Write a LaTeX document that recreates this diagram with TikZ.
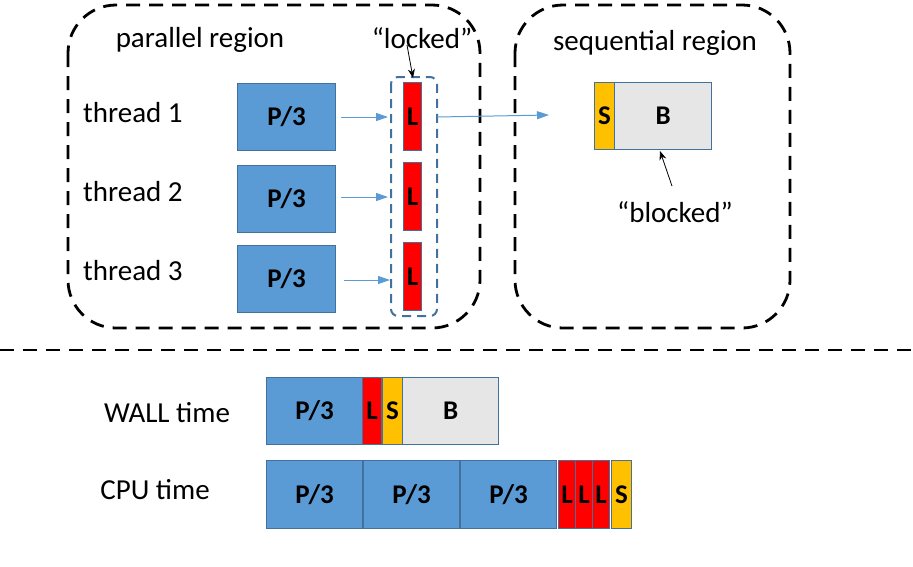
\documentclass[tikz,border=0pt]{standalone}
\usepackage{fontspec}
\setmainfont{Carlito}
\usetikzlibrary{arrows.meta}
\definecolor{pblue}{HTML}{5B9BD5}
\definecolor{pedge}{HTML}{41719C}
\definecolor{lred}{HTML}{FF0000}
\definecolor{sorange}{HTML}{FFC000}
\definecolor{bgray}{HTML}{E7E6E6}
\begin{document}
\begin{tikzpicture}[x=1pt,y=-1pt,
  box/.style={draw=pedge,line width=1.2pt,anchor=north west,inner sep=0pt,font=\fontsize{27}{30}\selectfont\bfseries},
  pbox/.style={box,fill=pblue},
  lbox/.style={box,fill=lred},
  sbox/.style={box,fill=sorange},
  bbox/.style={box,fill=bgray},
  lab/.style={font=\fontsize{29}{32}\selectfont,inner sep=0pt},
  region/.style={draw,dashed,line width=2.8pt,dash pattern=on 14pt off 9pt,rounded corners=48pt},
  barrow/.style={-{Triangle[length=12pt,width=8pt]},draw=pblue,line width=1pt},
  karrow/.style={-{Stealth[length=9pt,width=7pt]},line width=0.8pt}]
\useasboundingbox[fill=white] (0,0) rectangle (913,566);
\draw[region] (68,5) rectangle (480,328);
\draw[region] (515,5) rectangle (790,328);
\draw[dashed,line width=2.8pt,dash pattern=on 14pt off 9pt] (0,350) -- (913,350);
\node[lab] (tp) at (200,40) {parallel region};
\node[lab] (tl) at (422,38) {“locked”};
\node[lab] (ts) at (655,43) {sequential region};
\node[lab,anchor=west] (t1) at (83,113) {thread 1};
\node[lab,anchor=west] (t2) at (83,192) {thread 2};
\node[lab,anchor=west] (t3) at (83,271) {thread 3};
\node[pbox,minimum width=98pt,minimum height=67pt] (p1) at (237,83) {P/3};
\node[pbox,minimum width=98pt,minimum height=67pt] (p2) at (237,165) {P/3};
\node[pbox,minimum width=98pt,minimum height=67pt] (p3) at (237,245) {P/3};
\draw[draw=pedge,line width=2pt,dashed,dash pattern=on 9pt off 6pt,rounded corners=7pt] (391,77) rectangle (437,316);
\coordinate (lg) at (437,117);
\node[lbox,minimum width=18pt,minimum height=68pt] (l1) at (403,82) {L};
\node[lbox,minimum width=18pt,minimum height=68pt] (l2) at (403,162) {L};
\node[lbox,minimum width=18pt,minimum height=68pt] (l3) at (403,242) {L};
\coordinate (a1) at (388,117);
\coordinate (a2) at (388,197);
\coordinate (a3) at (390,280);
\draw[barrow] (p1.east |- a1) ++(5,0) -- (a1);
\draw[barrow] (p2.east |- a2) ++(5,0) -- (a2);
\draw[barrow] (p3.east |- a3) ++(8,0) -- (a3);
\coordinate (sq) at (549,115);
\draw[barrow] (lg) -- (sq);
\node[sbox,minimum width=20pt,minimum height=67pt] (s) at (594,82) {S};
\node[bbox,minimum width=97pt,minimum height=67pt] (b) at (614,82) {B};
\node[lab] (tb) at (675,212) {“blocked”};
\coordinate (bs) at (672,186);
\draw[karrow] (bs) -- (660,151);
\coordinate (ls) at (407,45);
\draw[karrow] (ls) -- (413,78);
% bottom
\node[lab] (wall) at (167,413) {WALL time};
\node[lab] (cpu) at (155,490) {CPU time};
\node[pbox,minimum width=96pt,minimum height=67pt] (w1) at (266,377) {P/3};
\node[lbox,minimum width=19pt,minimum height=67pt] (w2) at (362,377) {L};
\node[sbox,minimum width=20pt,minimum height=67pt] (w3) at (382,377) {S};
\node[bbox,minimum width=96pt,minimum height=67pt] (w4) at (402,377) {B};
\node[pbox,minimum width=96pt,minimum height=68pt] (c1) at (266,460) {P/3};
\node[pbox,minimum width=96pt,minimum height=68pt] (c2) at (363,460) {P/3};
\node[pbox,minimum width=96pt,minimum height=68pt] (c3) at (460,460) {P/3};
\node[lbox,minimum width=17pt,minimum height=68pt] (c4) at (558,460) {L};
\node[lbox,minimum width=17pt,minimum height=68pt] (c5) at (575,460) {L};
\node[lbox,minimum width=17pt,minimum height=68pt] (c6) at (592,460) {L};
\node[sbox,minimum width=20pt,minimum height=68pt] (c7) at (611,460) {S};
\end{tikzpicture}
\end{document}
